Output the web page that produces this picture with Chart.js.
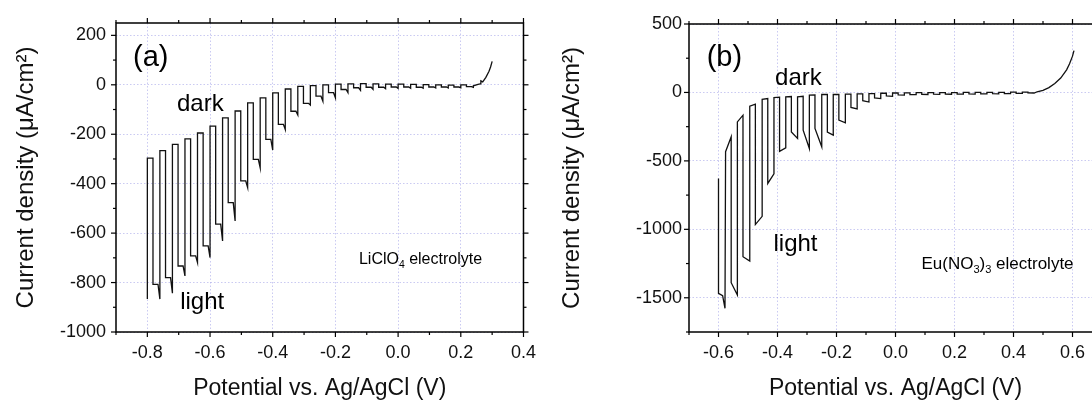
<!DOCTYPE html>
<html>
<head>
<meta charset="utf-8">
<script src="https://cdn.jsdelivr.net/npm/chart.js@4.4.1/dist/chart.umd.min.js"></script>
<style>
  html, body { margin:0; padding:0; background:#fff; overflow:hidden; width:1092px; height:402px; }
  #wrap-a { position:absolute; left:0; top:0; width:546px; height:402px; }
  #wrap-b { position:absolute; left:546px; top:0; width:580px; height:402px; }
</style>
</head>
<body>
<div id="wrap-a"><canvas id="chart-a" width="546" height="402"></canvas></div>
<div id="wrap-b"><canvas id="chart-b" width="580" height="402"></canvas></div>
<script>
// =============================================
// Data: chopped-light LSV, panel (a) LiClO4
// =============================================
const startXA = [-0.80];
const startYA = [-867];
const riseA  = [-0.80,-0.76,-0.72,-0.68,-0.64,-0.60,-0.56,-0.52,-0.48,-0.44,-0.40,-0.36,-0.32,-0.28,-0.24,-0.20,-0.16,-0.12,-0.08,-0.04,0.00,0.04,0.08,0.12,0.16,0.20];
const darkA  = [-297,-266,-241,-219,-195,-167,-134,-106,-73,-53,-33,-17,-6,-3,0,3,4,5,4,3,3,2,1,0,-1,0];
const lightA = [-807,-780,-733,-692,-652,-564,-477,-389,-302,-221,-160,-107,-75,-46,-32,-19,-12,-10,-10,-9,-9,-10,-9,-9,-9,-7];
const dipA   = [-867,-843,-773,-719,-699,-632,-551,-416,-336,-264,-181,-122,-82,-66,-53,-32,-22,-18,-16,-15,-14,-14,-13,-13,-12,-10];
const tailXA = [0.24,0.255,0.262,0.264,0.27,0.28,0.29,0.295,0.30];
const tailYA = [-4,2,4,16,12,30,55,72,95];

// panel (b) Eu(NO3)3
const startXB = [-0.600,-0.600,-0.586,-0.578];
const startYB = [-628,-1467,-1485,-1577];
const riseB   = [-0.576,-0.536,-0.494,-0.452,-0.412,-0.372,-0.332,-0.292,-0.250,-0.211,-0.170,-0.130,-0.090,-0.050,-0.010,0.030,0.070,0.110,0.150,0.190,0.230,0.270,0.310,0.350,0.390,0.430];
const darkSB  = [-433,-215,-100,-51,-37,-32,-32,-20,-15,-15,-12,-10,-8,-6,-4,-3,-2,-2,-1,-1,0,0,1,1,2,3];
const darkEB  = [-324,-166,-85,-45,-34,-30,-28,-18,-14,-14,-12,-10,-8,-6,-4,-3,-2,-2,-1,-1,0,0,1,1,2,3];
const lightSB = [-1390,-1200,-965,-665,-430,-288,-275,-263,-290,-202,-110,-60,-40,-25,-18,-15,-14,-13,-12,-12,-11,-10,-9,-8,-6,-3];
const lightEB = [-1480,-1232,-905,-595,-405,-336,-409,-397,-312,-222,-120,-70,-45,-28,-20,-16,-15,-14,-13,-12,-12,-11,-10,-9,-7,-4];
const tailXB  = [0.470,0.480,0.500,0.520,0.540,0.560,0.580,0.590,0.600,0.605];
const tailYB  = [-4,5,15,35,65,105,165,210,265,305];

// axis ticks
const xTicksA = [-0.8,-0.6,-0.4,-0.2,0.0,0.2,0.4];
const yTicksA = [-1000,-800,-600,-400,-200,0,200];
const xTicksB = [-0.6,-0.4,-0.2,0.0,0.2,0.4,0.6];
const yTicksB = [-1500,-1000,-500,0,500];

const FONT = "'Liberation Sans', Arial, sans-serif";

// turn chop values into one polyline (dark plateau -> light level -> end of light)
function buildTrace(startX, startY, rise, darkS, darkE, lightS, lightE, tailX, tailY, darkLen, lightHold) {
  const pts = startX.map((x, i) => ({ x, y: startY[i] }));
  rise.forEach((r, k) => {
    const f = r + darkLen;
    const e = k + 1 < rise.length ? rise[k + 1] : tailX[0];
    pts.push({ x: r, y: darkS[k] }, { x: f, y: darkE[k] }, { x: f, y: lightS[k] });
    if (lightHold) pts.push({ x: e - lightHold, y: lightS[k] });
    pts.push({ x: e, y: lightE[k] });
  });
  tailX.forEach((x, i) => pts.push({ x, y: tailY[i] }));
  return pts;
}

// frame + outward major/minor ticks on all four sides
const frameTicks = {
  id: 'frameTicks',
  afterDraw(chart, args, o) {
    const { ctx, chartArea: a, scales: { x, y } } = chart;
    ctx.save();
    ctx.strokeStyle = '#000';
    const seg = (x1, y1, x2, y2) => { ctx.beginPath(); ctx.moveTo(x1, y1); ctx.lineTo(x2, y2); ctx.stroke(); };
    ctx.lineWidth = 1.2;
    for (let v = o.xMinor * Math.ceil(x.min / o.xMinor - 1e-9); v <= x.max + 1e-9; v += o.xMinor) {
      const major = Math.abs(v / o.xMajor - Math.round(v / o.xMajor)) < 1e-6;
      const len = major ? 5 : 3, p = x.getPixelForValue(v);
      seg(p, a.bottom, p, a.bottom + len);
      seg(p, a.top, p, a.top - len);
    }
    for (let v = o.yMinor * Math.ceil(y.min / o.yMinor - 1e-9); v <= y.max + 1e-9; v += o.yMinor) {
      const major = Math.abs(v / o.yMajor - Math.round(v / o.yMajor)) < 1e-6;
      const len = major ? 5 : 3, p = y.getPixelForValue(v);
      seg(a.left, p, a.left - len, p);
      seg(a.right, p, a.right + len, p);
    }
    ctx.lineWidth = 1.5;
    ctx.strokeRect(a.left, a.top, a.right - a.left, a.bottom - a.top);
    ctx.restore();
  }
};

// text labels placed at data coordinates; [text, subscript?] parts
const notes = {
  id: 'notes',
  afterDraw(chart, args, o) {
    const { ctx, scales: { x, y } } = chart;
    ctx.save();
    ctx.fillStyle = '#000';
    ctx.textBaseline = 'alphabetic';
    o.items.forEach(n => {
      let px = x.getPixelForValue(n.x);
      const py = y.getPixelForValue(n.y);
      const parts = n.parts || [[n.text, 0]];
      let total = 0;
      parts.forEach(([t, sub]) => { ctx.font = `${sub ? n.size * 0.65 : n.size}px ${FONT}`; total += ctx.measureText(t).width; });
      if (n.align === 'center') px -= total / 2;
      parts.forEach(([t, sub]) => {
        ctx.font = `${sub ? n.size * 0.65 : n.size}px ${FONT}`;
        ctx.fillText(t, px, py + (sub ? n.size * 0.25 : 0));
        px += ctx.measureText(t).width;
      });
    });
    ctx.restore();
  }
};

function makeChart(id, cfg) {
  const grid = { color: 'rgba(150,150,230,0.5)', lineWidth: 1, drawTicks: false };
  const border = { display: false, dash: [1.5, 2] };
  return new Chart(document.getElementById(id), {
    type: 'scatter',
    data: {
      datasets: [{
        data: cfg.points, showLine: true, borderColor: '#111', borderWidth: 1.3,
        pointRadius: 0, tension: 0, fill: false
      }]
    },
    options: {
      responsive: false, animation: false,
      layout: { padding: cfg.padding },
      plugins: {
        legend: { display: false }, tooltip: { enabled: false },
        frameTicks: cfg.minor,
        notes: { items: cfg.notes }
      },
      scales: {
        x: {
          type: 'linear', min: cfg.xMin, max: cfg.xMax,
          grid, border,
          afterFit: s => { s.height = 70; },
          afterBuildTicks: s => { s.ticks = cfg.xTicks.map(v => ({ value: v })); },
          ticks: { padding: 10, color: '#111', font: { family: FONT, size: 18 },
                   callback: v => (Math.abs(v) < 1e-9 ? 0 : v).toFixed(1) },
          title: { display: true, text: 'Potential vs. Ag/AgCl (V)', color: '#111',
                   font: { family: FONT, size: 23 }, padding: { top: 8, bottom: 0 } }
        },
        y: {
          type: 'linear', min: cfg.yMin, max: cfg.yMax,
          grid, border,
          afterFit: s => { s.width = cfg.yWidth; },
          afterBuildTicks: s => { s.ticks = cfg.yTicks.map(v => ({ value: v })); },
          ticks: { padding: cfg.yPad, color: '#111', font: { family: FONT, size: 18 },
                   callback: v => String(Math.round(v)) },
          title: { display: true, text: 'Current density (\u03bcA/cm\u00b2)', color: '#111',
                   font: { family: FONT, size: 24 }, padding: { top: 12, bottom: 0 } }
        }
      }
    },
    plugins: [frameTicks, notes]
  });
}

makeChart('chart-a', {
  points: buildTrace(startXA, startYA, riseA, darkA, darkA, lightA, dipA, tailXA, tailYA, 0.018, 0.006),
  xMin: -0.9, xMax: 0.4, yMin: -1000, yMax: 250,
  xTicks: xTicksA, yTicks: yTicksA,
  padding: { top: 23, right: 18, left: 0, bottom: 0 }, yWidth: 116, yPad: 10,
  minor: { xMajor: 0.2, xMinor: 0.1, yMajor: 200, yMinor: 100 },
  notes: [
    { text: '(a)', x: -0.789, y: 78, size: 29, align: 'center' },
    { text: 'dark', x: -0.631, y: -108, size: 24, align: 'center' },
    { text: 'light', x: -0.625, y: -905, size: 24, align: 'center' },
    { parts: [['LiClO', 0], ['4', 1], [' electrolyte', 0]], x: -0.125, y: -726, size: 16, align: 'left' }
  ]
});

makeChart('chart-b', {
  points: buildTrace(startXB, startYB, riseB, darkSB, darkEB, lightSB, lightEB, tailXB, tailYB, 0.019, 0),
  xMin: -0.7, xMax: 0.7, yMin: -1750, yMax: 500,
  xTicks: xTicksB, yTicks: yTicksB,
  padding: { top: 24, right: 24, left: 0, bottom: 0 }, yWidth: 143, yPad: 7,
  minor: { xMajor: 0.2, xMinor: 0.1, yMajor: 500, yMinor: 250 },
  notes: [
    { text: '(b)', x: -0.580, y: 195, size: 29, align: 'center' },
    { text: 'dark', x: -0.329, y: 57, size: 24, align: 'center' },
    { text: 'light', x: -0.339, y: -1155, size: 24, align: 'center' },
    { parts: [['Eu(NO', 0], ['3', 1], [')', 0], ['3', 1], [' electrolyte', 0]], x: 0.088, y: -1290, size: 17, align: 'left' }
  ]
});
</script>
</body>
</html>
